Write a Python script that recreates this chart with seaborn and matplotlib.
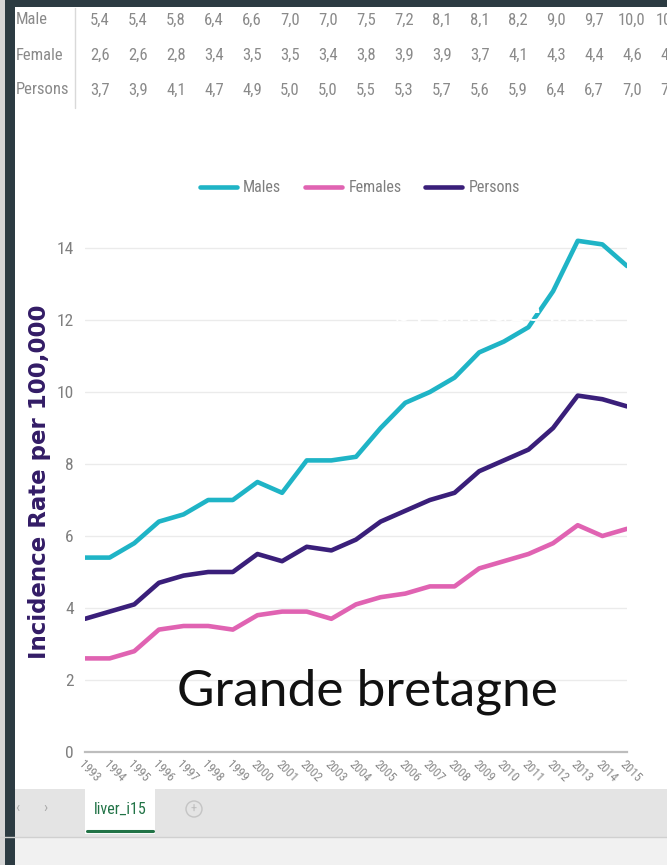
import numpy as np
import pandas as pd
import matplotlib
matplotlib.use("Agg")
import matplotlib.pyplot as plt
from matplotlib.patches import Rectangle, Circle
from matplotlib.lines import Line2D
from matplotlib import font_manager
import seaborn as sns

# Liver cancer incidence, Great Britain, age-standardised rate per 100,000
years = list(range(1993, 2016))
males = [5.4, 5.4, 5.8, 6.4, 6.6, 7.0, 7.0, 7.5, 7.2, 8.1, 8.1, 8.2, 9.0, 9.7, 10.0,
         10.4, 11.1, 11.4, 11.8, 12.8, 14.2, 14.1, 13.5]
females = [2.6, 2.6, 2.8, 3.4, 3.5, 3.5, 3.4, 3.8, 3.9, 3.9, 3.7, 4.1, 4.3, 4.4, 4.6,
           4.6, 5.1, 5.3, 5.5, 5.8, 6.3, 6.0, 6.2]
persons = [3.7, 3.9, 4.1, 4.7, 4.9, 5.0, 5.0, 5.5, 5.3, 5.7, 5.6, 5.9, 6.4, 6.7, 7.0,
           7.2, 7.8, 8.1, 8.4, 9.0, 9.9, 9.8, 9.6]
series_names = ["Males", "Females", "Persons"]
table_rows = ["Male", "Female", "Persons"]
y_ticks = [0, 2, 4, 6, 8, 10, 12, 14]

colors = {"Males": "#1fb4c6", "Females": "#e063b2", "Persons": "#3a1f7a"}

sns.set_theme(style="white")

# pick a condensed face for the spreadsheet-style labels if one is installed
names = {f.name for f in font_manager.fontManager.ttflist}
narrow_family = "DejaVu Sans"
for cand in ["Liberation Sans Narrow", "DejaVu Sans Condensed", "Roboto Condensed",
             "Open Sans Condensed"]:
    if cand in names:
        narrow_family = cand
        break
narrow_props = dict(family=[narrow_family, "DejaVu Sans"], stretch="condensed")
plt.rcParams["font.family"] = [narrow_family, "DejaVu Sans"]

W, H = 667, 865
fig = plt.figure(figsize=(W / 100, H / 100), dpi=100)
fig.patch.set_facecolor("white")


def fx(x):
    return x / W


def fy(y):
    return 1 - y / H


# spreadsheet data rows above the chart
grey = "#8a8a8a"
for r, (name, vals) in enumerate(zip(table_rows, [males, females, persons])):
    yy = [20, 55, 90][r]
    fig.text(fx(16), fy(yy), name, color=grey, fontsize=12, va="center", ha="left",
             **narrow_props)
    for i, v in enumerate(vals[:16]):
        fig.text(fx(100 + 38 * i), fy(yy), f"{v:.1f}".replace(".", ","),
                 color=grey, fontsize=12, va="center", ha="center", **narrow_props)
fig.add_artist(Line2D([fx(75), fx(75)], [fy(8), fy(108)], color="#d9d9d9", lw=1))

# chart
ax = fig.add_axes([fx(85), 113 / H, 542 / W, 540 / H])
df = pd.DataFrame({
    "idx": list(range(len(years))) * 3,
    "value": males + females + persons,
    "series": np.repeat(series_names, len(years)),
})
sns.lineplot(data=df, x="idx", y="value", hue="series", palette=colors,
             linewidth=3.3, ax=ax, legend=True)
ax.set_xlim(0, len(years) - 1)
ax.set_ylim(0, 15)
ax.set_yticks(y_ticks)
ax.set_yticklabels([str(t) for t in y_ticks], color="#7f7f7f", fontsize=12.5,
                   **narrow_props)
ax.set_xticks(range(len(years)))
ax.set_xticklabels([str(y) for y in years], rotation=-45, ha="left",
                   rotation_mode="anchor", color="#8a8a8a", fontsize=9,
                   **narrow_props)
ax.tick_params(axis="y", length=0, pad=8)
ax.tick_params(axis="x", length=0, pad=4)
ax.grid(axis="y", color="#ebebeb", lw=1)
ax.set_axisbelow(True)
for s in ["top", "right", "left"]:
    ax.spines[s].set_visible(False)
ax.spines["bottom"].set_color("#bdbdbd")
ax.spines["bottom"].set_linewidth(1.6)
ax.set_xlabel("")
ax.set_ylabel("")

handles, labels = ax.get_legend_handles_labels()
ax.legend_.remove()
fig.legend(handles, labels, loc="center", bbox_to_anchor=(fx(360), fy(188)), ncol=3,
           frameon=False, handlelength=2.3, columnspacing=1.5,
           handletextpad=0.4, labelcolor="#7f7f7f",
           prop=font_manager.FontProperties(family=[narrow_family, "DejaVu Sans"],
                                            stretch="condensed", size=11.5))

fig.text(fx(40), fy(482), "Incidence Rate per 100,000", rotation=90, ha="center",
         va="center", fontsize=16.5, fontweight="bold", color="#331c66",
         family=["DejaVu Sans"])

# overlay caption
fig.text(fx(367), fy(692), "Grande bretagne", ha="center", va="center",
         fontsize=37, color="#111111", family=["Lato", "DejaVu Sans"])
fig.text(fx(495), fy(313), "by a image link", ha="center", va="center",
         fontsize=21, color="white", family=["Open Sans", "DejaVu Sans"])

# sheet tab bar and window frame
ui = fig.add_axes([0, 0, 1, 1], zorder=10)
ui.set_xlim(0, W)
ui.set_ylim(H, 0)
ui.axis("off")
ui.patch.set_alpha(0)
ui.add_patch(Rectangle((0, 789), W, 48, color="#e4e4e4", lw=0))
ui.add_patch(Rectangle((0, 837), W, 28, color="#f1f1f1", lw=0))
ui.plot([0, W], [837, 837], color="#d0d0d0", lw=1)
ui.add_patch(Rectangle((85, 789), 70, 45, color="white", lw=0))
ui.plot([87, 153], [831, 831], color="#217346", lw=2.2)
ui.text(120, 809, "liver_i15", color="#217346", fontsize=11.5, ha="center", va="center",
        **narrow_props)
ui.add_patch(Circle((194, 809), 8, fill=False, ec="#c4c4c4", lw=1))
ui.text(194, 809, "+", color="#bdbdbd", fontsize=9, ha="center", va="center")
ui.text(17, 808, "‹", color="#aaaaaa", fontsize=11, ha="center", va="center")
ui.text(45, 808, "›", color="#aaaaaa", fontsize=11, ha="center", va="center")
ui.add_patch(Rectangle((0, 0), W, 7, color="#2c3b42", lw=0))
ui.add_patch(Rectangle((0, 0), 5, H, color="#d6d6d6", lw=0))
ui.add_patch(Rectangle((5, 0), 10, H, color="#2c3b42", lw=0))

fig.savefig("out.png", dpi=100)
